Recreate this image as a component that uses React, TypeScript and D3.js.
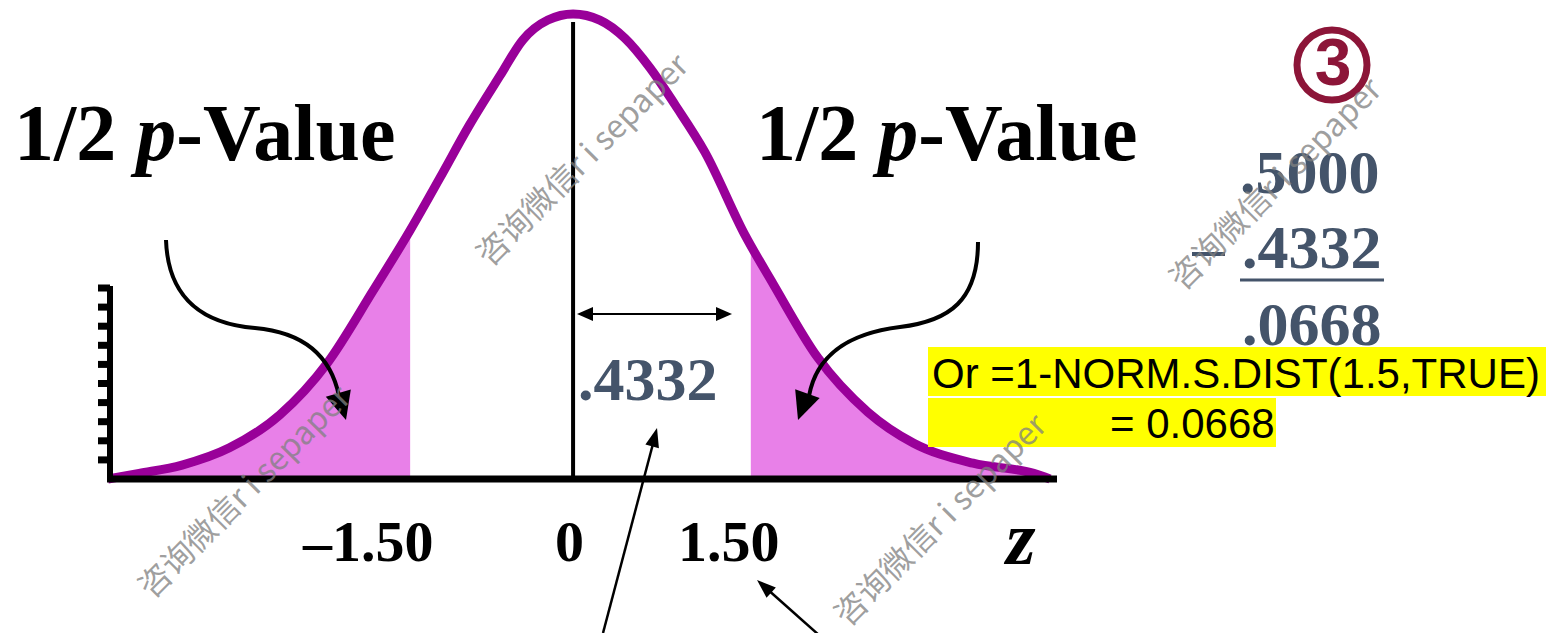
import React from "react";
import * as d3 from "d3";

// curve: z position and relative height (peak = 1)
const curveZ = [-3.14, -2.93, -2.64, -2.32, -1.98, -1.66, -1.35, -1.1, -0.9, -0.7, -0.49, -0.34, -0.17, 0,
  0.18, 0.35, 0.52, 0.69, 0.89, 1.16, 1.35, 1.65, 1.99, 2.3, 2.7, 3.11, 3.22];
const curveH = [0.0, 0.012, 0.03, 0.067, 0.138, 0.249, 0.405, 0.535, 0.647, 0.761, 0.869, 0.944, 0.987, 1.0,
  0.987, 0.948, 0.884, 0.804, 0.703, 0.525, 0.42, 0.262, 0.144, 0.077, 0.034, 0.012, 0.0];
const shadeLeft = [-3.14, -1.1];
const shadeRight = [1.2, 3.22];
const yTicks = [1, 2, 3, 4, 5, 6, 7, 8, 9, 10];
const axisLabels = ["–1.50", "0", "1.50"];
const calcValues = [".5000", ".4332", ".0668"];
const centerValue = ".4332";
const formulaLines = ["Or =1-NORM.S.DIST(1.5,TRUE)", "= 0.0668"];
const watermark = "咨询微信r i sepaper";

const W = 1546, H = 633;
const serif = "'Liberation Serif', 'Times New Roman', serif";
const sans = "'Liberation Sans', Arial, sans-serif";
const slate = "#44546A";

function arrowHead(tipX: number, tipY: number, fromX: number, fromY: number, len: number, wid: number) {
  const a = Math.atan2(tipY - fromY, tipX - fromX);
  const bx = tipX - len * Math.cos(a), by = tipY - len * Math.sin(a);
  const px = -Math.sin(a) * wid / 2, py = Math.cos(a) * wid / 2;
  return `${tipX},${tipY} ${bx + px},${by + py} ${bx - px},${by - py}`;
}

export default function App() {
  const pts = curveZ.map((z, i) => ({ z, h: curveH[i] }));
  const x = d3.scaleLinear().domain([-3.14, 3.22]).range([108, 1050]);
  const y = d3.scaleLinear().domain([0, 1]).range([479, 14]);
  const tickY = d3.scaleLinear().domain([0, 10]).range([479, 288]);
  const line = d3.line<{ z: number; h: number }>().x(d => x(d.z)).y(d => y(d.h)).curve(d3.curveMonotoneX);
  const area = d3.area<{ z: number; h: number }>().x(d => x(d.z)).y0(y(0)).y1(d => y(d.h)).curve(d3.curveMonotoneX);

  const wmStarts: [number, number][] = [[490, 268], [1183, 292], [152, 600], [848, 628]];

  return (
    <svg width={W} height={H} style={{ position: "absolute", left: 0, top: 0, background: "#fff" }}>
      <defs>
        <clipPath id="cl">
          <rect x={x(shadeLeft[0])} y={0} width={x(shadeLeft[1]) - x(shadeLeft[0])} height={y(0)} />
        </clipPath>
        <clipPath id="cr">
          <rect x={x(shadeRight[0])} y={0} width={x(shadeRight[1]) - x(shadeRight[0])} height={y(0)} />
        </clipPath>
      </defs>
      <path d={area(pts) || ""} fill="#E880E8" clipPath="url(#cl)" />
      <path d={area(pts) || ""} fill="#E880E8" clipPath="url(#cr)" />
      <path d={line(pts) || ""} fill="none" stroke="#990099" strokeWidth={9} strokeLinejoin="round" />

      {/* center line */}
      <line x1={x(0)} x2={x(0)} y1={22} y2={479} stroke="#000" strokeWidth={4} />
      {/* axes */}
      <line x1={107} x2={1057} y1={479} y2={479} stroke="#000" strokeWidth={7} />
      <line x1={110} x2={110} y1={286} y2={482} stroke="#000" strokeWidth={6} />
      {yTicks.map(t => (
        <rect key={t} x={98} y={tickY(t) - 3.5} width={12} height={7} fill="#000" />
      ))}

      {/* titles */}
      <text x={14} y={160} fontFamily={serif} fontWeight="bold" fontSize={80} fill="#000">
        1/2 <tspan fontStyle="italic">p</tspan>-Value
      </text>
      <text x={756} y={160} fontFamily={serif} fontWeight="bold" fontSize={80} fill="#000">
        1/2 <tspan fontStyle="italic">p</tspan>-Value
      </text>

      {/* axis labels */}
      <text x={303} y={561} fontFamily={serif} fontWeight="bold" fontSize={58}>{axisLabels[0]}</text>
      <text x={555} y={561} fontFamily={serif} fontWeight="bold" fontSize={58}>{axisLabels[1]}</text>
      <text x={678} y={561} fontFamily={serif} fontWeight="bold" fontSize={58}>{axisLabels[2]}</text>
      <text x={1006} y={564} fontFamily={serif} fontWeight="bold" fontStyle="italic" fontSize={76}>z</text>

      {/* center value and double arrow */}
      <line x1={580} x2={728} y1={314} y2={314} stroke="#000" strokeWidth={2} />
      <polygon points={arrowHead(577, 314, 600, 314, 16, 14)} fill="#000" />
      <polygon points={arrowHead(732, 314, 700, 314, 16, 14)} fill="#000" />
      <text x={578} y={400} fontFamily={serif} fontWeight="bold" fontSize={62} fill={slate}>{centerValue}</text>

      {/* subtraction */}
      <text x={1240} y={193} fontFamily={serif} fontWeight="bold" fontSize={62} fill={slate}>{calcValues[0]}</text>
      <text x={1242} y={268} fontFamily={serif} fontWeight="bold" fontSize={62} fill={slate}>{calcValues[1]}</text>
      <text x={1242} y={345} fontFamily={serif} fontWeight="bold" fontSize={62} fill={slate}>{calcValues[2]}</text>
      <rect x={1240} y={278.5} width={144} height={3} fill={slate} />
      <rect x={1192} y={252} width={33} height={4} fill={slate} />

      {/* circled 3 */}
      <circle cx={1332} cy={65} r={35} fill="none" stroke="#8C1538" strokeWidth={7} />
      <text x={1333} y={85} textAnchor="middle" fontFamily={sans} fontWeight="bold" fontSize={66} fill="#8C1538">3</text>

      {/* formula boxes */}
      <rect x={928} y={347} width={618} height={49} fill="#FFFF00" />
      <rect x={928} y={398} width={348} height={49} fill="#FFFF00" />
      <text x={932} y={388} fontFamily={sans} fontSize={42} fill="#000">{formulaLines[0]}</text>
      <text x={1110} y={438} fontFamily={sans} fontSize={42} fill="#000">{formulaLines[1]}</text>

      {/* curved arrows */}
      <path d="M166,240 C168,300 205,324 255,328 C300,332 330,352 339,396" fill="none" stroke="#000" strokeWidth={4} />
      <polygon points={arrowHead(346, 420, 338, 392, 28, 26)} fill="#000" />
      <path d="M978,242 C978,300 950,321 900,327 C852,333 817,352 809,396" fill="none" stroke="#000" strokeWidth={4} />
      <polygon points={arrowHead(798, 420, 808, 392, 28, 26)} fill="#000" />

      {/* straight arrows */}
      <line x1={603} y1={633} x2={654} y2={440} stroke="#000" strokeWidth={2.5} />
      <polygon points={arrowHead(657, 428, 603, 633, 19, 14)} fill="#000" />
      <line x1={820} y1={636} x2={766} y2={588} stroke="#000" strokeWidth={2.5} />
      <polygon points={arrowHead(757, 580, 820, 636, 19, 14)} fill="#000" />

      {/* watermarks */}
      {wmStarts.map(([wx, wy], i) => (
        <text key={i} x={wx} y={wy} transform={`rotate(-45 ${wx} ${wy})`}
          fontFamily="'Noto Sans CJK SC', 'Noto Sans', sans-serif" fontSize={32} fill="#808080" fillOpacity={0.75}>
          {watermark}
        </text>
      ))}
    </svg>
  );
}
